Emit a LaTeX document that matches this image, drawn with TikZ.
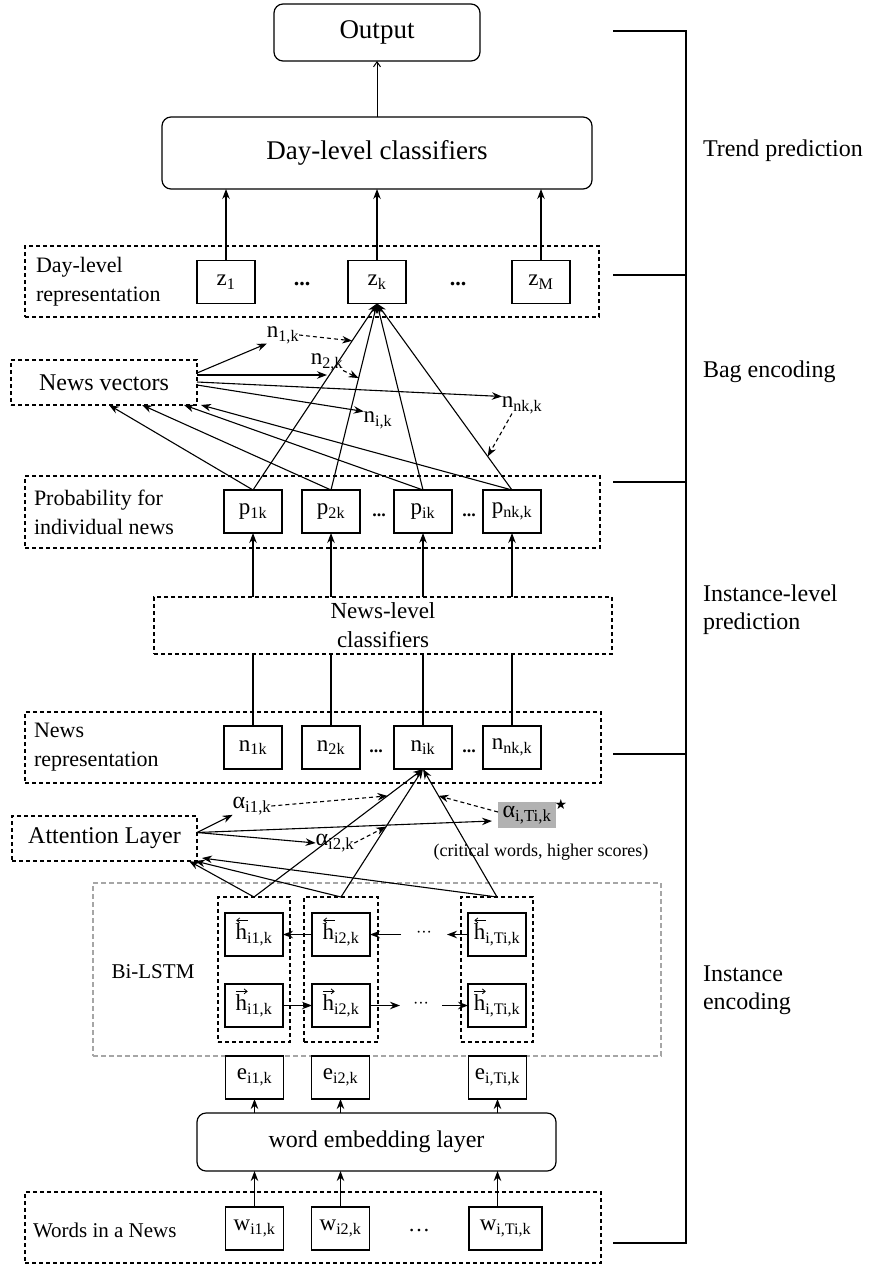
\documentclass[tikz,border=0pt]{standalone}
\usepackage{fontspec}
\setmainfont{Liberation Serif}
\newfontfamily\symfont{DejaVu Sans}
\usetikzlibrary{arrows.meta,calc}
\newcommand\subl[2]{#1\textsubscript{#2}}
\newcommand\fs[2]{\fontsize{#1}{#2}\selectfont}
\begin{document}
\begin{tikzpicture}[x=1pt,y=-1pt,
  every node/.style={inner sep=0pt, outer sep=0pt},
  sbox/.style={draw, line width=1.2pt, minimum width=58pt, minimum height=43pt, font=\fs{23}{27}},
  rbox/.style={draw, line width=1.2pt, rounded corners=9pt},
  dbox/.style={draw, line width=1.1pt, dash pattern=on 4pt off 3pt},
  gbox/.style={draw=black!35, line width=1.1pt, dash pattern=on 5pt off 3pt},
  arr/.style={line width=1.1pt, -{Stealth[length=10pt,width=7.5pt]}},
  darr/.style={arr, dash pattern=on 4pt off 3pt},
  harr/.style={line width=0.8pt, -{Straight Barb[length=3pt,width=5pt]}},
  ln/.style={line width=1.1pt},
  lbl/.style={font=\fs{22}{29}, align=left, anchor=west},
  side/.style={font=\fs{24}{28}, align=left, anchor=west},
  free/.style={font=\fs{23}{26}},
  alab/.style={font=\fs{24}{27}},
  dots/.style={font=\fs{18}{20}\bfseries},
]
\useasboundingbox (0,0) rectangle (868,1266);

% ---- bracket and stage labels
\draw[ln] (613,31) -- (686,31) -- (686,1243) -- (613,1243);
\draw[ln] (613,275) -- (686,275);
\draw[ln] (613,482) -- (686,482);
\draw[ln] (613,754) -- (686,754);
\node[side] (tp) at (703,151) {Trend prediction};
\node[side] (be) at (703,372) {Bag encoding};
\node[side] (ilp) at (703,610) {Instance-level\\prediction};
\node[side] (ie) at (703,990) {Instance\\encoding};

% ---- top
\node[rbox, minimum width=206pt, minimum height=57pt, font=\fs{27}{31}] (out) at (377,32.5) {Output};
\node[rbox, minimum width=430pt, minimum height=72pt, font=\fs{27}{31}] (dcls) at (377,153) {Day-level classifiers};
\draw[line width=1pt, -{Straight Barb[length=5pt,width=7pt]}] (dcls) -- (out);

% ---- day-level representation
\node[dbox, minimum width=574pt, minimum height=71pt] (dayrep) at (312,281.5) {};
\node[lbl] (dayrepL) at (36,282) {Day-level\\representation};
\node[sbox] (z1) at (226,282) {\subl{z}{1}};
\node[sbox] (zk) at (377,282) {\subl{z}{k}};
\node[sbox] (zM) at (541,282) {\subl{z}{M}};
\node[dots, font=\fs{22}{24}\bfseries] (zd1) at (302,284) {...};
\node[dots, font=\fs{22}{24}\bfseries] (zd2) at (458,284) {...};
\draw[arr] (z1) -- (z1 |- dcls.south);
\draw[arr] (zk) -- (zk |- dcls.south);
\draw[arr] (zM) -- (zM |- dcls.south);

% ---- news vectors
\node[dbox, minimum width=186pt, minimum height=45pt, font=\fs{24}{28}] (nv) at (104,382.5) {News vectors};
\node[free] (n1) at (283,335) {\subl{n}{1,k}};
\node[free] (n2) at (327,362) {\subl{n}{2,k}};
\node[free] (ni) at (378,420) {\subl{n}{i,k}};
\node[free] (nn) at (522,405) {\subl{n}{nk,k}};

% ---- probability row
\node[dbox, minimum width=575pt, minimum height=72pt] (prob) at (312.5,512) {};
\node[lbl] (probL) at (34,512) {Probability for\\individual news};
\node[sbox] (p1) at (253,511.5) {\subl{p}{1k}};
\node[sbox] (p2) at (331,511.5) {\subl{p}{2k}};
\node[sbox] (pi) at (423,511.5) {\subl{p}{ik}};
\node[sbox] (pn) at (512,511.5) {\subl{p}{nk,k}};
\node[dots] (pd1) at (379,515) {...};
\node[dots] (pd2) at (469,515) {...};

% fan to z_k and back to news vectors
\foreach \p in {p1,p2,pi,pn} {\draw[arr] (\p.north) -- (zk.south);}
\draw[arr] (p1.north) -- ([xshift=5pt]nv.south);
\draw[arr] (p2.north) -- ([xshift=38pt]nv.south);
\draw[arr] (pi.north) -- ([xshift=80pt]nv.south);
\draw[arr] (pn.north) -- ([xshift=97pt]nv.south);

% news vectors to n labels
\coordinate (nvA) at ($(nv.east)+(0,-7.5)$);
\draw[arr] ($(nv.east)+(0,-9.5)$) -- (n1.south west);
\draw[arr] (nvA) -- (nvA -| n2);
\draw[arr] ($(nv.east)+(0,-0.5)$) -- (nn.north west);
\draw[arr] ($(nv.east)+(0,2.5)$) -- (ni.north west);
\draw[darr] (n1.east) -- ($(p1.north)!0.8!(zk.south)$);
\draw[darr] (n2.south east) -- ($(p2.north)!0.6!(zk.south)$);
\draw[darr] ([xshift=-10pt]nn.south) -- ($(pn.north)!0.18!(zk.south)$);

% ---- news-level classifiers
\node[dbox, minimum width=458pt, minimum height=57pt, font=\fs{23}{29}, align=center] (nlc) at (383,625.5) {News-level\\classifiers};
\foreach \p in {p1,p2,pi,pn} {\draw[arr] (nlc.north -| \p) -- (\p);}

% ---- news representation
\node[dbox, minimum width=576pt, minimum height=71pt] (nrep) at (313,747.5) {};
\node[lbl] (nrepL) at (34,747.5) {News\\representation};
\node[sbox] (nb1) at (253,747.5) {\subl{n}{1k}};
\node[sbox] (nb2) at (331,747.5) {\subl{n}{2k}};
\node[sbox] (nbi) at (423,747.5) {\subl{n}{ik}};
\node[sbox] (nbn) at (512,747.5) {\subl{n}{nk,k}};
\node[dots] (nd1) at (376,751) {...};
\node[dots] (nd2) at (469,751) {...};
\foreach \n in {nb1,nb2,nbi,nbn} {\draw[ln] (\n) -- (\n |- nlc.south);}

% ---- attention
\node[dbox, minimum width=185pt, minimum height=45pt, font=\fs{24}{28}] (att) at (104.5,838.5) {Attention Layer};
\node[alab] (a1) at (252,806) {α\textsubscript{i1,k}};
\node[alab] (a2) at (335,843) {α\textsubscript{i2,k}};
\node[alab, fill=black!30, minimum width=58pt, minimum height=26pt] (aT) at (527,815) {α\textsubscript{i,Ti,k}};
\node[font=\symfont\fs{14}{16}] (star) at (561,804) {★};
\node[font=\fs{18}{21}] (crit) at (541,852) {(critical words, higher scores)};

% ---- Bi-LSTM
\node[gbox, minimum width=568pt, minimum height=173pt] (bil) at (377,969.5) {};
\node[font=\fs{21}{24}] (bilL) at (153,972) {Bi-LSTM};
\node[dbox, minimum width=72pt, minimum height=145pt] (c1) at (254,969.5) {};
\node[dbox, minimum width=74pt, minimum height=145pt] (c2) at (341,969.5) {};
\node[dbox, minimum width=72pt, minimum height=145pt] (cT) at (497,969.5) {};
\node[sbox] (hb1) at (254,934.5) {\subl{h}{i1,k}};
\node[sbox] (hb2) at (341,934.5) {\subl{h}{i2,k}};
\node[sbox] (hbT) at (497,934.5) {\subl{h}{i,Ti,k}};
\node[sbox] (hf1) at (254,1005.5) {\subl{h}{i1,k}};
\node[sbox] (hf2) at (341,1005.5) {\subl{h}{i2,k}};
\node[sbox] (hfT) at (497,1005.5) {\subl{h}{i,Ti,k}};
% direction marks over h
\foreach \n in {hb1,hb2,hbT} {\draw[harr] ($(\n.text)+(12,-19)$) -- ($(\n.text)+(0.5,-19)$);}
\foreach \n in {hf1,hf2,hfT} {\draw[harr] ($(\n.text)+(0.5,-19)$) -- ($(\n.text)+(12,-19)$);}
\node[font=\fs{16}{18}, minimum width=46pt] (db) at (424,934.5) {···};
\node[font=\fs{16}{18}, minimum width=42pt] (df) at (421,1005.5) {···};
\draw[arr] (hb2) -- (hb1);
\draw[arr] (db) -- (hb2);
\draw[arr] (hbT) -- (db);
\draw[arr] (hf1) -- (hf2);
\draw[arr] (hf2) -- (df);
\draw[arr] (df) -- (hfT);

% columns to n_ik and attention
\foreach \c in {c1,c2,cT} {\draw[arr] (\c.north) -- (nbi.south);}
\draw[arr] (c1.north) -- ([xshift=-8pt]att.south east);
\draw[arr] (c2.north) -- ([xshift=-2pt]att.south east);
\draw[arr] (cT.north) -- ([xshift=5pt,yshift=3pt]att.south east);

% attention to alphas
\coordinate (attO) at ($(att.east)+(0,-6)$);
\draw[arr] (attO) -- (a1.south west);
\draw[arr] (attO) -- (a2.west);
\draw[arr] (attO) -- ($(aT.west)+(-6,6)$);
\draw[darr] (a1.east) -- ($(c1.north)!0.79!(nbi.south)$);
\draw[darr] (a2.east) -- ($(c2.north)!0.55!(nbi.south)$);
\draw[darr] ([yshift=3pt]aT.west) -- ($(cT.north)!0.79!(nbi.south)$);

% ---- embeddings
\node[sbox] (e1) at (254.5,1077.5) {\subl{e}{i1,k}};
\node[sbox] (e2) at (340.5,1077.5) {\subl{e}{i2,k}};
\node[sbox] (eT) at (497.5,1077.5) {\subl{e}{i,Ti,k}};
\node[rbox, minimum width=359pt, minimum height=58pt, font=\fs{24}{28}] (emb) at (376.5,1142) {word embedding layer};
\foreach \e in {e1,e2,eT} {\draw[arr] (\e |- emb.north) -- (\e);}

% ---- words
\node[dbox, minimum width=576pt, minimum height=71pt] (words) at (313,1227.5) {};
\node[lbl, font=\fs{21}{24}] (wordsL) at (33,1230) {Words in a News};
\node[sbox] (w1) at (254.5,1228.5) {\subl{w}{i1,k}};
\node[sbox] (w2) at (340.5,1228.5) {\subl{w}{i2,k}};
\node[sbox, minimum width=73pt] (wT) at (505.5,1228.5) {\subl{w}{i,Ti,k}};
\node[font=\fs{22}{24}] (wd) at (419,1230) {…};
\draw[arr] (w1) -- (w1 |- emb.south);
\draw[arr] (w2) -- (w2 |- emb.south);
\draw[arr] (eT |- wT.north) -- (eT |- emb.south);
\end{tikzpicture}
\end{document}
